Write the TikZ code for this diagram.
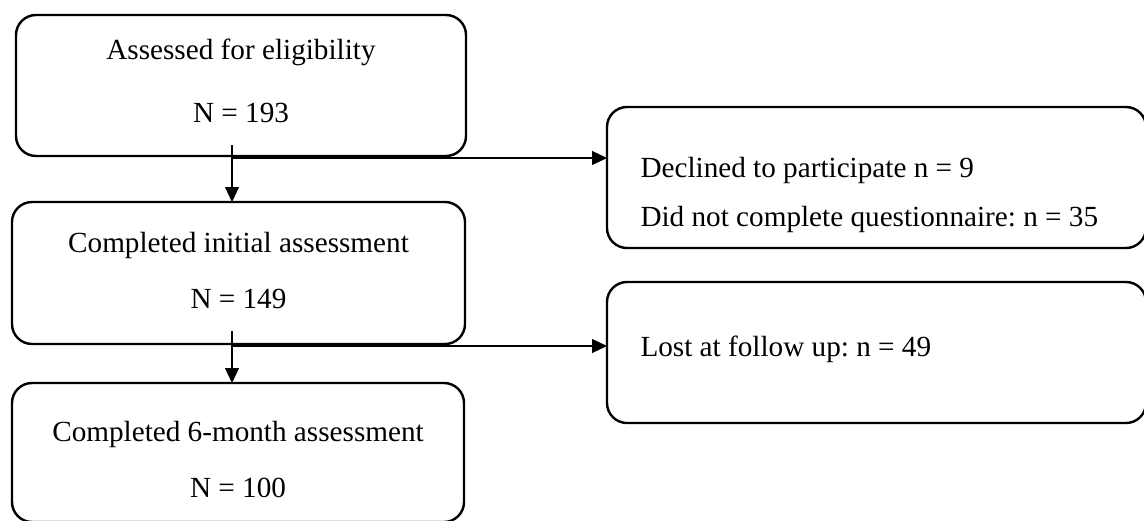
\documentclass[tikz,border=0pt]{standalone}
\usepackage{fontspec}
\setmainfont{Liberation Serif}
\usetikzlibrary{arrows.meta,calc}
\tikzstyle{startstop} = [rectangle, rounded corners=10pt, line width=1.2pt, draw=black, outer sep=0pt, align=center, font=\fontsize{14.6}{17}\selectfont\frenchspacing]
\tikzstyle{process} = [startstop, align=flush left, inner xsep=15.5pt, text width=236pt, minimum width=269.5pt, minimum height=70.5pt]
\tikzstyle{arrow} = [line width=0.6pt,-{Triangle[length=7.5pt,width=7pt]}]

\begin{document}
\begin{tikzpicture}[x=0.5pt,y=-0.5pt]
  \useasboundingbox (0,0) rectangle (1144,520);
  \node (assess)[startstop, minimum width=225pt, minimum height=70.5pt, text depth=5pt] at (241,85.5) {Assessed for eligibility\\[14.5pt]N = 193};
  \node (initial)[startstop, minimum width=226.5pt, minimum height=71pt, text depth=3pt] at (238.5,273) {Completed initial assessment\\[11pt]N = 149};
  \node (sixmonth)[startstop, minimum width=226pt, minimum height=69.5pt, text height=45.5pt] at (238,452.5) {Completed 6-month assessment\\[11pt]N = 100};
  \node (declined)[process, text depth=9.7pt] at (876.5,177.5) {Declined to participate n = 9\\[7.5pt]Did not complete questionnaire: n = 35};
  \node (lost)[process, text depth=5.9pt] at (876.5,352.5) {Lost at follow up: n = 49};
  \coordinate (split1) at (232,145);
  \coordinate (split2) at (232,331);
  \draw [arrow] (split1) -- (split1 |- initial.north);
  \draw [arrow] ([yshift=-1pt]split1 |- assess.south) -- ([yshift=-1pt]assess.south -| declined.west);
  \draw [arrow] (split2) -- (split2 |- sixmonth.north);
  \draw [arrow] ([yshift=-1pt]split2 |- initial.south) -- ([yshift=-1pt]initial.south -| lost.west);
\end{tikzpicture}
\end{document}
